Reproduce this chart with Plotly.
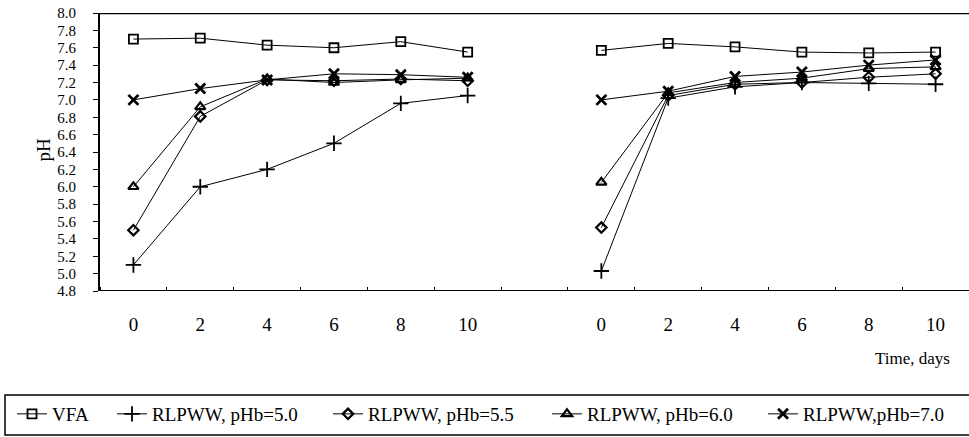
import plotly.graph_objects as go

# Sampling days (same for both runs)
days = [0, 2, 4, 6, 8, 10]
day_labels = ["0", "2", "4", "6", "8", "10"]

# First run (left block)
vfa_left = [7.70, 7.71, 7.63, 7.60, 7.67, 7.55]
ph50_left = [5.10, 6.00, 6.20, 6.50, 6.96, 7.05]
ph55_left = [5.50, 6.81, 7.23, 7.22, 7.24, 7.22]
ph60_left = [6.00, 6.92, 7.24, 7.20, 7.23, 7.25]
ph70_left = [7.00, 7.13, 7.23, 7.30, 7.29, 7.26]

# Second run (right block)
vfa_right = [7.57, 7.65, 7.61, 7.55, 7.54, 7.55]
ph50_right = [5.03, 7.02, 7.15, 7.20, 7.19, 7.18]
ph55_right = [5.53, 7.05, 7.18, 7.20, 7.26, 7.30]
ph60_right = [6.05, 7.08, 7.20, 7.25, 7.36, 7.38]
ph70_right = [7.00, 7.10, 7.27, 7.32, 7.40, 7.46]

names = ["VFA", "RLPWW, pHb=5.0", "RLPWW, pHb=5.5", "RLPWW, pHb=6.0", "RLPWW,pHb=7.0"]
left_sets = [vfa_left, ph50_left, ph55_left, ph60_left, ph70_left]
right_sets = [vfa_right, ph50_right, ph55_right, ph60_right, ph70_right]

symbols = ["square-open", "cross-thin-open", "diamond-open", "triangle-up-open", "x-thin-open"]
msizes = [9, 11, 8, 9, 10]
mlines = [1.8, 1.8, 2.2, 2.2, 2.8]

W, H = 969, 437
ML, MR, MT, MB = 100, 0, 13, 146
PW = W - ML - MR
PH = H - MT - MB

def fx(px):
    return (px - ML) / PW

def fy(py):
    return (H - MB - py) / PH

FONT = "Liberation Serif"
legend_px = [12, 112, 328, 547, 763]
legend_keys = ["legend", "legend2", "legend3", "legend4", "legend5"]

fig = go.Figure()
for i, name in enumerate(names):
    marker = dict(symbol=symbols[i], size=msizes[i], color="black",
                  line=dict(color="black", width=mlines[i]))
    fig.add_trace(go.Scatter(
        x=days, y=left_sets[i], mode="lines+markers", name=name,
        line=dict(color="black", width=1), marker=marker,
        xaxis="x", yaxis="y", legendgroup=name, legend=legend_keys[i]))
    fig.add_trace(go.Scatter(
        x=days, y=right_sets[i], mode="lines+markers", name=name,
        line=dict(color="black", width=1), marker=marker,
        xaxis="x2", yaxis="y", legendgroup=name, showlegend=False,
        legend=legend_keys[i]))

xcommon = dict(
    range=[-1, 11], showgrid=False, zeroline=False, showline=False,
    tickmode="array", tickvals=days, ticktext=day_labels, ticks="",
    tickfont=dict(family=FONT, size=19, color="black"),
    ticklabelstandoff=20, anchor="y",
    minor=dict(tickmode="array", tickvals=[-1, 1, 3, 5, 7, 9, 11],
               ticks="inside", ticklen=4, tickwidth=1, tickcolor="black"),
)

layout = dict(
    width=W, height=H,
    margin=dict(l=ML, r=MR, t=MT, b=MB, pad=0),
    paper_bgcolor="white", plot_bgcolor="white",
    xaxis=dict(domain=[0, 6 / 13], **xcommon),
    xaxis2=dict(domain=[7 / 13, 1], **xcommon),
    yaxis=dict(range=[4.8, 8.0], dtick=0.2, tick0=4.8, tickformat=".1f",
               showgrid=False, zeroline=False, showline=True, linecolor="black",
               linewidth=2, ticks="outside", ticklen=5, tickwidth=1, tickcolor="black",
               tickfont=dict(family=FONT, size=15, color="black"),
               ticklabelstandoff=14, anchor="x"),
    showlegend=True,
    shapes=[
        dict(type="line", xref="paper", yref="y", x0=0, x1=1, y0=8.0, y1=8.0,
             line=dict(color="black", width=2.5)),
        dict(type="line", xref="paper", yref="y", x0=0, x1=1, y0=4.8, y1=4.8,
             line=dict(color="black", width=2)),
        dict(type="rect", xref="paper", yref="paper",
             x0=fx(5), x1=fx(980), y0=fy(435), y1=fy(395),
             line=dict(color="black", width=1.5), fillcolor="rgba(0,0,0,0)"),
    ],
    annotations=[
        dict(text="pH", textangle=-90, x=fx(30), y=fy(150), xref="paper", yref="paper",
             showarrow=False, font=dict(family=FONT, size=19, color="black")),
        dict(text="Time, days", x=fx(952), y=fy(358), xref="paper", yref="paper",
             xanchor="right", yanchor="middle", showarrow=False,
             font=dict(family=FONT, size=17, color="black")),
    ],
)

for key, px in zip(legend_keys, legend_px):
    layout[key] = dict(
        x=fx(px), y=fy(414), xref="paper", yref="paper",
        xanchor="left", yanchor="middle", orientation="h",
        bgcolor="rgba(0,0,0,0)", borderwidth=0,
        font=dict(family=FONT, size=19, color="black"),
        itemwidth=30, tracegroupgap=0,
    )

fig.update_layout(**layout)
fig.write_html("out.html")
